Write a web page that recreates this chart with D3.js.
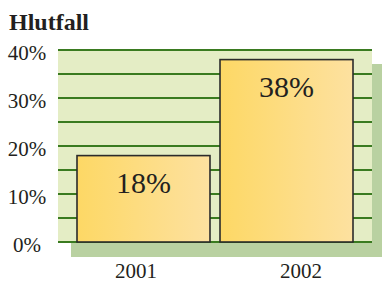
<!DOCTYPE html>
<head>
    <meta charset="utf-8">
    <title>Hlutfall</title>
    <script src="https://d3js.org/d3.v7.min.js"></script>
    <style>
        body { margin: 0; background: #fff; }
        svg text { font-family: "Liberation Serif", "Times New Roman", Times, serif; fill: #231f20; }
    </style>
</head>
<body>
    <div id="container"></div>
    <script>
        //------------------------DATA------------------------//
        var years = ["2001", "2002"];
        var values = [18, 38];
        var valueLabels = ["18%", "38%"];
        var yTicks = [0, 10, 20, 30, 40];
        var gridTicks = [0, 5, 10, 15, 20, 25, 30, 35, 40];

        //------------------------SVG------------------------//
        var width = 382, height = 282;
        var svg = d3.select("#container").append("svg")
            .attr("width", width)
            .attr("height", height);

        var plot = { left: 58, right: 372, top: 49, bottom: 242 };

        var yScale = d3.scaleLinear().domain([0, 40]).range([242, 50]);
        var xScale = d3.scaleBand().domain(years).range([77, 353]).paddingInner(0.07);
        var xLabelScale = d3.scaleBand().domain(years).range([53.5, 383.5]);

        var defs = svg.append("defs");
        var grad = defs.append("linearGradient").attr("id", "barGrad")
            .attr("x1", "0%").attr("x2", "100%").attr("y1", "0%").attr("y2", "0%");
        grad.append("stop").attr("offset", "0%").attr("stop-color", "#fdd865");
        grad.append("stop").attr("offset", "100%").attr("stop-color", "#fde1a0");

        // shadow behind plot area
        svg.append("rect")
            .attr("x", plot.left + 13)
            .attr("y", plot.top + 15)
            .attr("width", plot.right - plot.left)
            .attr("height", plot.bottom - plot.top)
            .attr("fill", "#b9d1a1");

        // plot area
        svg.append("rect")
            .attr("x", plot.left)
            .attr("y", plot.top)
            .attr("width", plot.right - plot.left)
            .attr("height", plot.bottom - plot.top)
            .attr("fill", "#e4edc5");

        //----------------------GRIDS----------------------//
        svg.append("g")
            .selectAll("line")
            .data(gridTicks)
            .join("line")
            .attr("x1", plot.left)
            .attr("x2", plot.right)
            .attr("y1", d => yScale(d))
            .attr("y2", d => yScale(d))
            .attr("stroke", "#3a7b20")
            .attr("stroke-width", 2);

        //----------------------BARS----------------------//
        svg.append("g")
            .selectAll("rect")
            .data(values)
            .join("rect")
            .attr("x", (d, i) => xScale(years[i]))
            .attr("y", d => yScale(d))
            .attr("width", xScale.bandwidth())
            .attr("height", d => yScale(0) - yScale(d))
            .attr("fill", "url(#barGrad)")
            .attr("stroke", "#2b2b2b")
            .attr("stroke-width", 1.6);

        svg.append("g")
            .selectAll("text")
            .data(values)
            .join("text")
            .attr("x", (d, i) => xScale(years[i]) + xScale.bandwidth() / 2)
            .attr("y", d => yScale(d) + 37)
            .attr("text-anchor", "middle")
            .style("font-size", "30px")
            .text((d, i) => valueLabels[i]);

        //----------------------AXES----------------------//
        svg.append("g")
            .selectAll("text")
            .data(yTicks)
            .join("text")
            .attr("x", 27)
            .attr("y", d => yScale(d) + 10)
            .attr("text-anchor", "middle")
            .style("font-size", "21px")
            .text(d => d + "%");

        svg.append("g")
            .selectAll("text")
            .data(years)
            .join("text")
            .attr("x", d => xLabelScale(d) + xLabelScale.bandwidth() / 2)
            .attr("y", 278)
            .attr("text-anchor", "middle")
            .style("font-size", "21px")
            .text(d => d);

        svg.append("text")
            .attr("x", 9)
            .attr("y", 30)
            .style("font-size", "24px")
            .style("font-weight", "bold")
            .text("Hlutfall");
    </script>
</body>
